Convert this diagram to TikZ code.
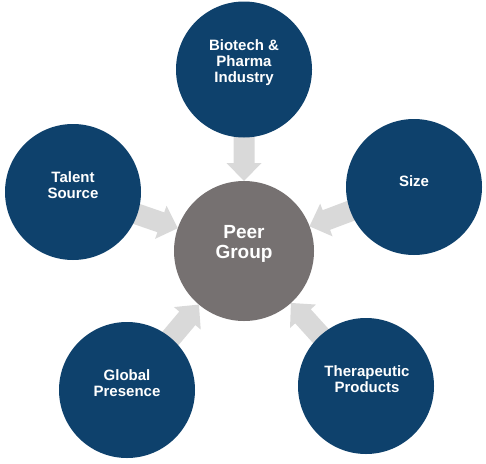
\documentclass[tikz,border=0pt]{standalone}
\usepackage{fontspec}
\setmainfont{Liberation Sans}
\usetikzlibrary{calc}
\definecolor{outerblue}{RGB}{14,65,108}
\definecolor{centergrey}{RGB}{118,113,113}
\definecolor{arrowgrey}{RGB}{217,217,217}
\tikzset{
  outercircle/.style={circle, fill=outerblue, minimum size=136pt, inner sep=0pt, draw=none},
  centercircle/.style={circle, fill=centergrey, minimum size=140pt, inner sep=0pt, draw=none},
  outertext/.style={text=white, align=center, font=\bfseries\fontsize{15}{16}\selectfont, inner sep=0pt},
  centertext/.style={text=white, align=center, font=\bfseries\fontsize{19}{20.5}\selectfont, inner sep=0pt},
  blockarrow/.style={fill=arrowgrey, draw=none}
}
\newcommand{\blockarr}[2]{%
  \coordinate (#1-s) at ($(#1)!60pt!(#2)$);
  \coordinate (#1-e) at ($(#2)!70pt!(#1)$);
  \coordinate (#1-h) at ($(#1-e)!18pt!(#1-s)$);
  \fill[blockarrow]
    ($(#1-s)!10.5pt!90:(#1-e)$) -- ($(#1-h)!10.5pt!-90:(#1-s)$) --
    ($(#1-h)!17.5pt!-90:(#1-s)$) -- (#1-e) --
    ($(#1-h)!17.5pt!90:(#1-s)$) -- ($(#1-h)!10.5pt!90:(#1-s)$) --
    ($(#1-s)!10.5pt!-90:(#1-e)$) -- cycle;
}
\begin{document}
\begin{tikzpicture}[x=1pt, y=-1pt]
\useasboundingbox (0,0) rectangle (486,463);
% centres (invisible coordinates for arrows)
\coordinate (cp) at (244,251);
\coordinate (tp) at (244,69.5);
\coordinate (lp) at (73,192);
\coordinate (rp) at (414,187);
\coordinate (blp) at (127,390);
\coordinate (brp) at (366,386);
% arrows
\blockarr{tp}{cp}
\blockarr{lp}{cp}
\blockarr{rp}{cp}
\blockarr{blp}{cp}
\blockarr{brp}{cp}
% circles
\node[centercircle] (center) at (cp) {};
\node[outercircle] (top) at (tp) {};
\node[outercircle] (left) at (lp) {};
\node[outercircle] (right) at (rp) {};
\node[outercircle] (bleft) at (blp) {};
\node[outercircle] (bright) at (brp) {};
% texts
\node[centertext] (center-t) at (244,244) {Peer\\Group};
\node[outertext] (top-t) at (244,62.5) {Biotech \&\\Pharma\\Industry};
\node[outertext] (left-t) at (73,185) {Talent\\Source};
\node[outertext] (right-t) at (414,181) {Size};
\node[outertext] (bleft-t) at (127,383) {Global\\Presence};
\node[outertext] (bright-t) at (367,379) {Therapeutic\\Products};
\end{tikzpicture}
\end{document}
